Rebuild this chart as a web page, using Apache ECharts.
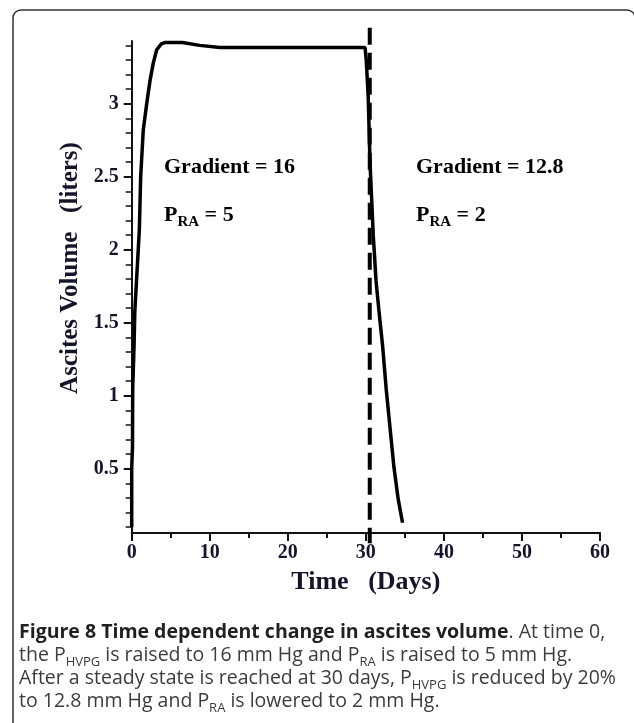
<!DOCTYPE html>
<html>
<head>
<meta charset="utf-8">
<script src="https://cdn.jsdelivr.net/npm/echarts@6/dist/echarts.min.js"></script>
<style>
html,body{margin:0;padding:0;background:#fff;}
#chart{width:634px;height:723px;}
</style>
</head>
<body>
<div id="chart"></div>
<script>
// Time (days) and ascites volume (liters)
const riseDays = [0, 0, 0.1, 0.13, 0.3, 0.4, 0.65, 0.98, 1.15, 1.48, 1.92, 2.35, 2.77, 3.2, 3.8, 4.3, 6.5, 8.7, 11.3, 29.9];
const riseVol  = [0.10, 0.5, 0.65, 1.05, 1.34, 1.58, 1.82, 2.14, 2.5, 2.82, 3.0, 3.16, 3.28, 3.37, 3.41, 3.42, 3.42, 3.40, 3.385, 3.385];
const dropDays = [30.05, 30.3, 30.53, 30.95, 31.3, 31.7, 32.15, 32.6, 33.1, 33.6, 34.15, 34.7];
const dropVol  = [3.3, 3.05, 2.6, 2.1, 1.79, 1.57, 1.34, 1.05, 0.78, 0.51, 0.29, 0.13];
const changeDay = 30.5;
const changeLineVol = [3.52, -0.01];
const yLabelValues = [0.5, 1, 1.5, 2, 2.5, 3];
const yMinorValues = [0.1,0.2,0.3,0.4,0.6,0.7,0.8,0.9,1.1,1.2,1.3,1.4,1.6,1.7,1.8,1.9,2.1,2.2,2.3,2.4,2.6,2.7,2.8,2.9,3.1,3.2,3.3,3.4];
const xTicks = [0, 10, 20, 30, 40, 50, 60];

const curve = riseDays.map((d, i) => [d, riseVol[i]])
  .concat(dropDays.map((d, i) => [d, dropVol[i]]));
const changeLine = changeLineVol.map(v => [changeDay, v]);

const serif = '"Liberation Serif", "Times New Roman", serif';
const sans = '"Open Sans", "Noto Sans", sans-serif';
const ink = '#15152a';
const capN = {font: '19.5px ' + sans, fill: '#3c3c3c', verticalAlign: 'bottom'};
const capS = {font: '13px ' + sans, fill: '#3c3c3c', verticalAlign: 'bottom', padding: [0, 0, -4, 0]};

const chart = echarts.init(document.getElementById('chart'), null, {renderer: 'canvas'});
chart.setOption({
  backgroundColor: '#ffffff',
  animation: false,
  grid: {left: 131.7, right: 34, top: 41, bottom: 190, containLabel: false},
  xAxis: {
    type: 'value', min: xTicks[0], max: xTicks[xTicks.length - 1], interval: 10,
    name: 'Time   (Days)', nameLocation: 'middle', nameGap: 36,
    nameTextStyle: {fontFamily: serif, fontWeight: 'bold', fontSize: 26, color: ink},
    axisLine: {show: true, lineStyle: {color: '#111', width: 2}},
    axisTick: {show: true, length: 8, lineStyle: {color: '#111', width: 2}},
    minorTick: {show: true, splitNumber: 2, length: 5, lineStyle: {color: '#111', width: 2}},
    splitLine: {show: false},
    axisLabel: {fontFamily: serif, fontWeight: 'bold', fontSize: 20, color: ink, margin: 10}
  },
  yAxis: [{
    type: 'value', min: 0.06, max: 3.43, position: 'left', offset: 0,
    name: 'Ascites Volume   (liters)', nameLocation: 'middle', nameGap: 49,
    nameTextStyle: {fontFamily: serif, fontWeight: 'bold', fontSize: 25, color: ink, padding: [0, 0, 0, 38]},
    axisLine: {show: true, lineStyle: {color: '#111', width: 2}},
    axisTick: {show: true, inside: false, length: 8, customValues: yLabelValues, lineStyle: {color: '#111', width: 2}},
    splitLine: {show: false},
    axisLabel: {fontFamily: serif, fontWeight: 'bold', fontSize: 20, color: ink, margin: 13, customValues: yLabelValues}
  }, {
    type: 'value', min: 0.06, max: 3.43, position: 'left', offset: 0, alignTicks: false,
    axisLine: {show: false},
    axisTick: {show: true, inside: false, length: 6, customValues: yMinorValues, lineStyle: {color: '#111', width: 1.5}},
    axisLabel: {show: false, customValues: yMinorValues},
    splitLine: {show: false}
  }],
  series: [{
    type: 'line', data: curve, showSymbol: false, symbol: 'none',
    lineStyle: {color: '#000', width: 3.5}, clip: false
  }, {
    type: 'line', data: changeLine, showSymbol: false, symbol: 'none',
    lineStyle: {color: '#000', width: 4, type: [17, 8]}, clip: false
  }],
  graphic: [
    {type: 'rect', shape: {x: 13, y: 10, width: 622, height: 800, r: 8}, style: {fill: 'none', stroke: '#333', lineWidth: 1.5}, silent: true},
    {type: 'text', left: 164, top: 156, style: {text: 'Gradient = 16', font: 'bold 22px ' + serif, fill: '#000'}},
    {type: 'text', left: 164, top: 204, style: {text: '{b|P}{s|RA}{b| = 5}', fill: '#000',
      rich: {b: {font: 'bold 22px ' + serif, fill: '#000', verticalAlign: 'bottom'}, s: {font: 'bold 15px ' + serif, fill: '#000', verticalAlign: 'bottom', padding: [0, 0, -4, 0]}}}},
    {type: 'text', left: 416, top: 156, style: {text: 'Gradient = 12.8', font: 'bold 22px ' + serif, fill: '#000'}},
    {type: 'text', left: 416, top: 204, style: {text: '{b|P}{s|RA}{b| = 2}', fill: '#000',
      rich: {b: {font: 'bold 22px ' + serif, fill: '#000', verticalAlign: 'bottom'}, s: {font: 'bold 15px ' + serif, fill: '#000', verticalAlign: 'bottom', padding: [0, 0, -4, 0]}}}},
    {type: 'text', left: 19, top: 622, style: {text: '{b|Figure 8 Time dependent change in ascites volume}{n|. At time 0,}',
      rich: {b: {font: 'bold 19.5px ' + sans, fill: '#231f20'}, n: {font: '19.5px ' + sans, fill: '#3c3c3c'}}}},
    {type: 'text', left: 19, top: 645, style: {text: '{n|the P}{s|HVPG}{n| is raised to 16 mm Hg and P}{s|RA}{n| is raised to 5 mm Hg.}',
      rich: {n: capN, s: capS}}},
    {type: 'text', left: 19, top: 668, style: {text: '{n|After a steady state is reached at 30 days, P}{s|HVPG}{n| is reduced by 20%}',
      rich: {n: capN, s: capS}}},
    {type: 'text', left: 19, top: 691, style: {text: '{n|to 12.8 mm Hg and P}{s|RA}{n| is lowered to 2 mm Hg.}',
      rich: {n: capN, s: capS}}}
  ]
});
</script>
</body>
</html>
